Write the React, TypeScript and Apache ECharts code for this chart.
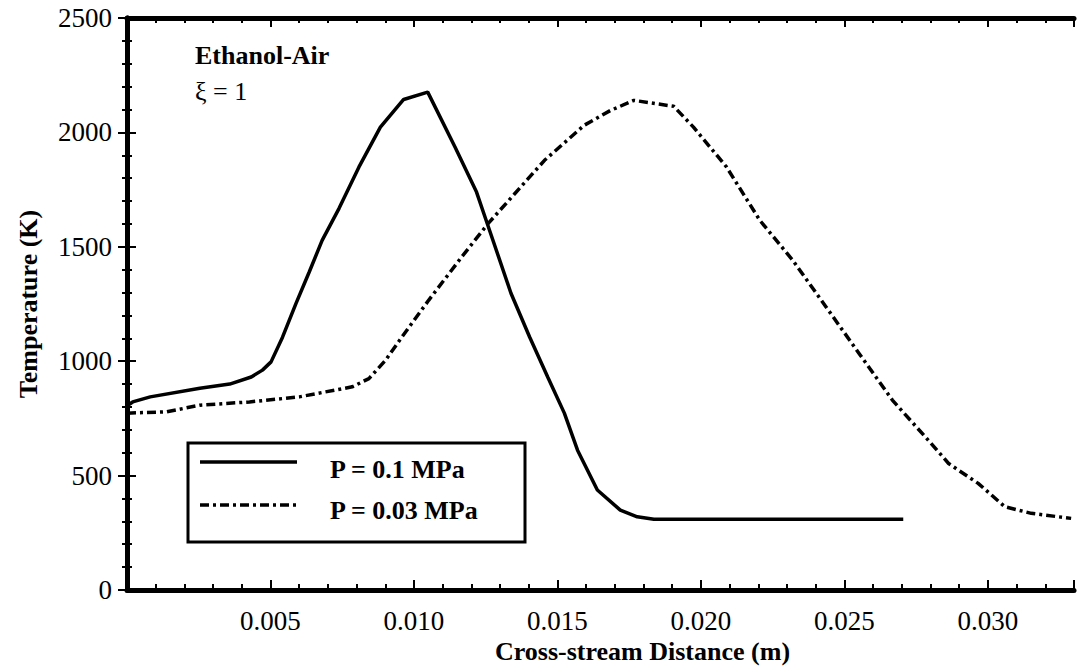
import React, { useEffect, useRef } from "react";
import * as echarts from "echarts";

const xSolid = [0.0, 0.0002, 0.00081, 0.00254, 0.00358, 0.00433, 0.00472, 0.00502, 0.00542, 0.00589, 0.00635, 0.0068, 0.00739, 0.00808, 0.00883, 0.00964, 0.01048, 0.01143, 0.01218, 0.01255, 0.01338, 0.01403, 0.01466, 0.01524, 0.0157, 0.01639, 0.01719, 0.01778, 0.01836, 0.02705];
const tSolid = [805, 822, 844, 882, 900, 931, 961, 997, 1105, 1253, 1390, 1528, 1668, 1848, 2023, 2144, 2176, 1936, 1739, 1603, 1297, 1106, 931, 773, 611, 437, 349, 320, 309, 309];

const xDash = [0.0, 0.00139, 0.00254, 0.00427, 0.006, 0.00785, 0.00843, 0.00901, 0.00958, 0.01051, 0.01166, 0.01258, 0.01351, 0.01455, 0.01593, 0.01685, 0.01766, 0.01905, 0.01974, 0.02089, 0.02205, 0.0232, 0.02436, 0.02551, 0.02667, 0.02782, 0.02863, 0.02966, 0.03059, 0.03151, 0.0329];
const tDash = [773, 779, 808, 822, 844, 888, 924, 1004, 1106, 1266, 1455, 1601, 1732, 1878, 2031, 2096, 2140, 2114, 2023, 1849, 1616, 1441, 1237, 1034, 830, 669, 553, 466, 364, 335, 313];

const seriesNames = ["P = 0.1 MPa", "P = 0.03 MPa"];
const annotation = ["Ethanol-Air", "ξ = 1"];
const xAxisTitle = "Cross-stream Distance (m)";
const yAxisTitle = "Temperature (K)";

const FONT = "'Liberation Serif', 'Times New Roman', serif";
const DASH = [9, 4, 3, 4];

export default function App() {
  const ref = useRef<HTMLDivElement>(null);
  useEffect(() => {
    if (!ref.current) return;
    const chart = echarts.init(ref.current, undefined, { renderer: "svg" });
    const solidData = xSolid.map((x, i) => [x, tSolid[i]]);
    const dashData = xDash.map((x, i) => [x, tDash[i]]);
    const xMajorFmt = (v: number) => {
      const k = Math.round(v / 0.005);
      if (v === 0 || Math.abs(v - k * 0.005) > 1e-9) return "";
      return v.toFixed(3);
    };
    const axisLine = { show: true, lineStyle: { color: "#000", width: 5 } };
    chart.setOption({
      animation: false,
      backgroundColor: "#fff",
      grid: { left: 127, right: -3, top: 18, bottom: 80 },
      xAxis: [
        {
          type: "value", position: "bottom", min: 0, max: 0.033, interval: 0.005,
          axisLine,
          axisTick: { show: true, inside: true, length: 10, lineStyle: { color: "#000", width: 2 } },
          axisLabel: { formatter: xMajorFmt, color: "#000", fontFamily: FONT, fontSize: 27, margin: 17 },
          splitLine: { show: false },
          name: xAxisTitle, nameLocation: "middle", nameGap: 40,
          nameTextStyle: { color: "#000", fontFamily: FONT, fontSize: 26, fontWeight: "bold", padding: [0, 0, 0, 84] },
        },
        {
          type: "value", position: "bottom", min: 0, max: 0.033, interval: 0.001,
          axisLine: { show: false },
          axisTick: { show: true, inside: true, length: 6, lineStyle: { color: "#000", width: 2 } },
          axisLabel: { show: false }, splitLine: { show: false },
        },
        {
          type: "value", position: "top", min: 0, max: 0.033, interval: 0.005,
          axisLine,
          axisTick: { show: true, inside: true, length: 9, lineStyle: { color: "#000", width: 2 } },
          axisLabel: { show: false }, splitLine: { show: false },
        },
        {
          type: "value", position: "top", min: 0, max: 0.033, interval: 0.001,
          axisLine: { show: false },
          axisTick: { show: true, inside: true, length: 5, lineStyle: { color: "#000", width: 2 } },
          axisLabel: { show: false }, splitLine: { show: false },
        },
      ],
      yAxis: [
        {
          type: "value", position: "left", min: 0, max: 2500, interval: 500,
          axisLine,
          axisTick: { show: true, inside: true, length: 9, lineStyle: { color: "#000", width: 2 } },
          minorTick: { show: true, splitNumber: 5, length: 5, lineStyle: { color: "#000", width: 2 } },
          axisLabel: { color: "#000", fontFamily: FONT, fontSize: 27, margin: 15, formatter: (v: number) => String(v) },
          splitLine: { show: false }, minorSplitLine: { show: false },
          name: yAxisTitle, nameLocation: "middle", nameGap: 86,
          nameTextStyle: { color: "#000", fontFamily: FONT, fontSize: 26, fontWeight: "bold" },
        },
        {
          type: "value", position: "right", min: 0, max: 2500, interval: 500,
          axisLine,
          axisTick: { show: true, inside: true, length: 9, lineStyle: { color: "#000", width: 2 } },
          minorTick: { show: true, splitNumber: 5, length: 5, lineStyle: { color: "#000", width: 2 } },
          axisLabel: { show: false }, splitLine: { show: false }, minorSplitLine: { show: false },
        },
      ],
      legend: { show: false, data: seriesNames },
      series: [
        {
          name: seriesNames[0], type: "line", xAxisIndex: 0, yAxisIndex: 0, data: solidData,
          showSymbol: false, symbol: "none", lineStyle: { color: "#000", width: 3.5 }, itemStyle: { color: "#000" },
        },
        {
          name: seriesNames[1], type: "line", xAxisIndex: 0, yAxisIndex: 0, data: dashData,
          showSymbol: false, symbol: "none", lineStyle: { color: "#000", width: 3.5, type: DASH }, itemStyle: { color: "#000" },
        },
      ],
      graphic: [
        { type: "text", left: 195, top: 42, style: { text: annotation[0], fill: "#000", font: `bold 26px ${FONT}` } },
        { type: "text", left: 195, top: 78, style: { text: annotation[1], fill: "#000", font: `26px ${FONT}` } },
        {
          type: "rect", shape: { x: 188, y: 443, width: 337, height: 99 },
          style: { fill: "#fff", stroke: "#000", lineWidth: 3 }, z: 100,
        },
        {
          type: "line", shape: { x1: 200, y1: 462, x2: 297, y2: 462 },
          style: { stroke: "#000", lineWidth: 3.5 }, z: 101,
        },
        {
          type: "line", shape: { x1: 200, y1: 505, x2: 297, y2: 505 },
          style: { stroke: "#000", lineWidth: 3.5, lineDash: DASH }, z: 101,
        },
        {
          type: "text", x: 330, y: 469, z: 101,
          style: { text: seriesNames[0], fill: "#000", font: `bold 26px ${FONT}`, verticalAlign: "middle" },
        },
        {
          type: "text", x: 330, y: 510, z: 101,
          style: { text: seriesNames[1], fill: "#000", font: `bold 26px ${FONT}`, verticalAlign: "middle" },
        },
      ],
    });
    return () => chart.dispose();
  }, []);
  return (
    <div
      ref={ref}
      style={{ position: "absolute", left: 0, top: 0, width: 1077, height: 670, background: "#fff" }}
    />
  );
}
